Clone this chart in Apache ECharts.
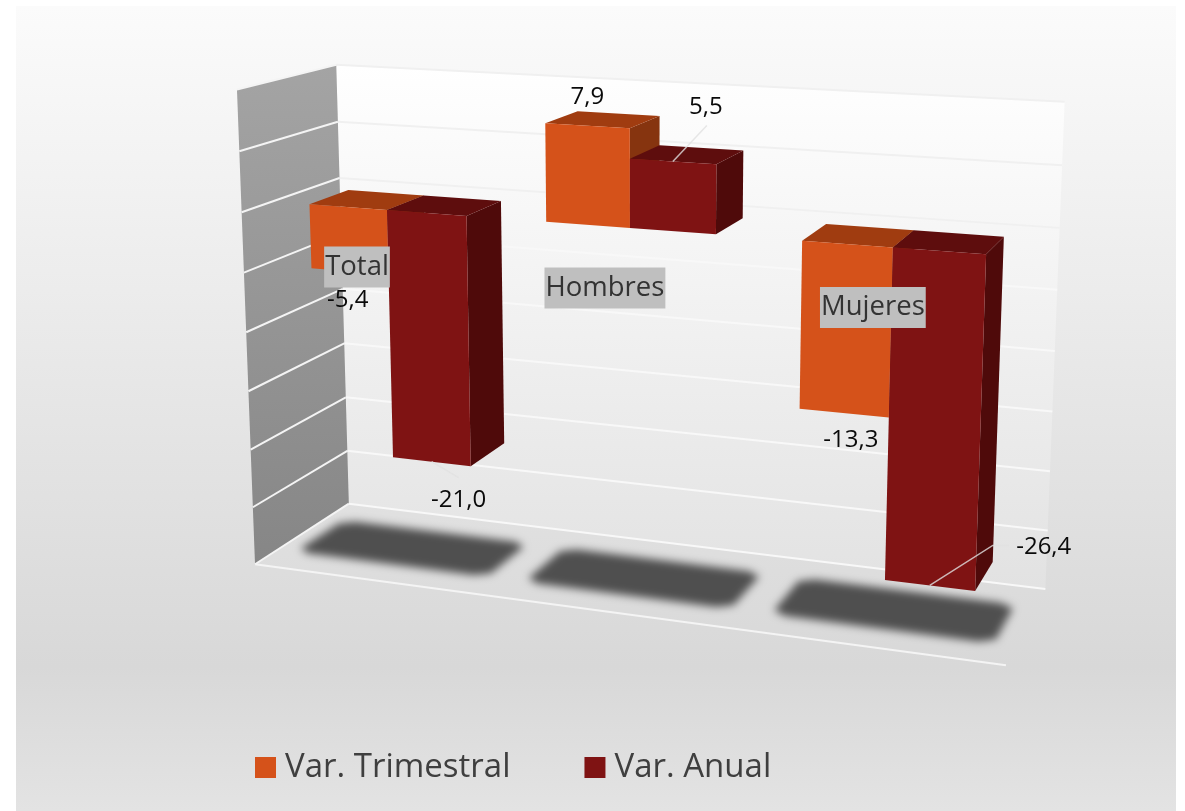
<!DOCTYPE html>
<html>
<head>
<meta charset="utf-8">
<style>html,body{margin:0;padding:0;background:#fff}#c{width:1185px;height:811px}</style>
<script src="https://cdn.jsdelivr.net/npm/echarts@6/dist/echarts.min.js"></script>
</head>
<body>
<div id="c"></div>
<script>
const categories = ['Total', 'Hombres', 'Mujeres'];
const varTrimestral = [-5.4, 7.9, -13.3];
const varAnual = [-21.0, 5.5, -26.4];
const valueTicks = [-30, -25, -20, -15, -10, -5, 0, 5, 10];
const seriesNames = ['Var. Trimestral', 'Var. Anual'];

const FONT = '"Open Sans", sans-serif';
const VMIN = -30, VMAX = 10;
const BAR = 0.336;             // width of one bar, in category units
const DF = -0.725, DB = 1.725; // depth of the front and back of the box (bars span depth 0..1)
const COLORS = {
  trim: { front: '#d5521a', top: '#a03c10', side: '#86340f' },
  anual: { front: '#7f1313', top: '#5e0d0d', side: '#4f0a0a' }
};

// perspective camera: category position t, value v, depth d -> pixel
function project(t, v, d) {
  const w = 1 - 0.038 * t - 0.001143 * v + 0.0354 * d;
  return [(387 + 219 * t - 0.735 * v + 51.7 * d) / w,
          (210 + 9.3 * t - 12.3 * v - 7.6 * d) / w];
}
// read a datum through the chart's own axes, then back to model space
function model(api, params, cat, val) {
  const p = api.coord([cat, val]);
  const cs = params.coordSys;
  return {
    t: (p[0] - cs.x) / cs.width * categories.length - 0.5,
    v: VMAX - (p[1] - cs.y) / cs.height * (VMAX - VMIN)
  };
}
function poly(points, fill, extra) {
  return Object.assign({ type: 'polygon', shape: { points }, style: { fill }, silent: true }, extra || {});
}
function barItem(off, pal) {
  return function (params, api) {
    const m = model(api, params, api.value(0), api.value(1));
    const base = model(api, params, api.value(0), 0);
    const t0 = m.t + off, t1 = t0 + BAR;
    const hi = Math.max(m.v, base.v), lo = Math.min(m.v, base.v);
    return {
      type: 'group',
      children: [
        poly([project(t1, hi, 0), project(t1, hi, 1), project(t1, lo, 1), project(t1, lo, 0)], pal.side),
        poly([project(t0, hi, 0), project(t0, hi, 1), project(t1, hi, 1), project(t1, hi, 0)], pal.top),
        poly([project(t0, hi, 0), project(t1, hi, 0), project(t1, lo, 0), project(t0, lo, 0)], pal.front)
      ]
    };
  };
}
const SHADOW_SHIFT = 3000;
function shadowItem(params, api) {
  const m = model(api, params, api.value(0), VMIN);
  const tA = m.t - 0.42, tB = m.t + 0.42, dA = -0.16, dB = 1.10, k = 0.055, e = 0.13;
  // an outline with its corners cut, which the blur turns into rounded corners
  const pts = [
    project(tA + k, m.v, dA), project(tB - k, m.v, dA), project(tB, m.v, dA + e),
    project(tB, m.v, dB - e), project(tB - k, m.v, dB), project(tA + k, m.v, dB),
    project(tA, m.v, dB - e), project(tA, m.v, dA + e)
  ].map(p => [p[0] - SHADOW_SHIFT, p[1]]);
  return poly(pts, '#505050', {
    style: { fill: '#505050', shadowColor: '#4f4f4f', shadowBlur: 9, shadowOffsetX: SHADOW_SHIFT }
  });
}
function wallsItem(params, api) {
  const L = model(api, params, 0, VMIN), R = model(api, params, categories.length - 1, VMAX);
  const tL = L.t - 0.5, tR = R.t + 0.5, lo = L.v, hi = R.v;
  return {
    type: 'group',
    children: [
      poly([project(tL, hi, DB), project(tR, hi, DB), project(tR, lo, DB), project(tL, lo, DB)],
        new echarts.graphic.LinearGradient(0, 0, 0, 1, [{ offset: 0, color: '#ffffff' }, { offset: 1, color: '#e2e2e2' }])),
      poly([project(tL, hi, DF), project(tL, hi, DB), project(tL, lo, DB), project(tL, lo, DF)],
        new echarts.graphic.LinearGradient(0, 0, 0, 1, [{ offset: 0, color: '#a4a4a4' }, { offset: 1, color: '#868686' }]))
    ]
  };
}
function gridItem(params, api) {
  const v = model(api, params, 0, api.value(0)).v;
  const tL = -0.5, tR = 2.5;
  const wallColor = v >= 0 ? '#f0f0f0' : '#f8f8f8';
  const lines = [
    { type: 'polyline', shape: { points: [project(tL, v, DF), project(tL, v, DB)] },
      style: { stroke: '#f4f4f4', lineWidth: 2, fill: null }, silent: true },
    { type: 'polyline', shape: { points: [project(tL, v, DB), project(tR, v, DB)] },
      style: { stroke: wallColor, lineWidth: 2, fill: null }, silent: true }
  ];
  if (v === VMIN) {
    lines.push({ type: 'polyline', shape: { points: [project(tL, v, DF), project(tR, v, DF)] },
      style: { stroke: '#f4f4f4', lineWidth: 2, fill: null }, silent: true });
  }
  return { type: 'group', children: lines };
}

// label offsets from the point of the bar they belong to
const trimLabelOffset = [[-2, 29], [0, -29], [7, 27]];
const anualLabelOffset = [[27, 38], [33, -54], [114, -38]];
const anualLeader = [[[27, 16]], [[34, -36]], [[63, -40], [79, -40]]];
const catLabelOffset = [[-30, 57], [-25, 60], [-20, 60]];

function fmt(v) { return v.toFixed(1).replace('.', ','); }
function valueText(x, y, v) {
  return { type: 'text', silent: true, style: { text: fmt(v), x, y, fill: '#0a0a0a', align: 'center',
    verticalAlign: 'middle', fontSize: 24, fontFamily: FONT } };
}
function labelItem(off, offsets, leaders) {
  return function (params, api) {
    const i = api.value(0), val = api.value(1);
    const m = model(api, params, i, val);
    const a = project(m.t + off + BAR / 2, m.v, 0);
    const o = offsets[i];
    const children = [];
    if (leaders) {
      const pts = [a].concat(leaders[i].map(q => [a[0] + q[0], a[1] + q[1]]));
      children.push({ type: 'polyline', silent: true, shape: { points: pts },
        style: { stroke: 'rgba(225,225,225,0.8)', lineWidth: 1.5, fill: null } });
    }
    children.push(valueText(a[0] + o[0], a[1] + o[1], val));
    return { type: 'group', children };
  };
}
function catLabelItem(params, api) {
  const i = api.value(0);
  const m = model(api, params, i, 0);
  const a = project(m.t, m.v, 0), o = catLabelOffset[i];
  return { type: 'text', silent: true, style: {
    text: categories[i], x: a[0] + o[0], y: a[1] + o[1], align: 'center', verticalAlign: 'middle',
    fontSize: 27.5, fontFamily: FONT, fill: '#333333', backgroundColor: '#bfbfbf', padding: [1, 1, 1, 1], lineHeight: 39 } };
}

const catIdx = categories.map((_, i) => i);
const grid = { left: 240, right: 140, top: 60, bottom: 200, show: false };
const common = { type: 'custom', coordinateSystem: 'cartesian2d', silent: true, animation: false, clip: false };

const option = {
  animation: false,
  backgroundColor: '#ffffff',
  grid,
  xAxis: { type: 'category', data: categories, show: false },
  yAxis: { type: 'value', min: VMIN, max: VMAX, interval: 5, show: false },
  legend: {
    data: seriesNames, left: 250, top: 746, icon: 'rect', itemWidth: 21, itemHeight: 21, itemGap: 74,
    selectedMode: false,
    textStyle: { fontSize: 33, fontFamily: FONT, color: '#3f3f3f', padding: [0, 0, 0, 4] }
  },
  graphic: [{
    type: 'rect', z: -10, silent: true, shape: { x: 16, y: 6, width: 1160, height: 805 },
    style: { fill: new echarts.graphic.LinearGradient(0, 0, 0, 1, [
      { offset: 0, color: '#fbfbfb' }, { offset: 0.82, color: '#d8d8d8' }, { offset: 1, color: '#e3e3e3' }]) }
  }],
  series: [
    Object.assign({}, common, { name: 'walls', z: 1, data: [[0]], encode: { x: 0 }, renderItem: wallsItem }),
    Object.assign({}, common, { name: 'grid', z: 2, data: valueTicks.map(v => [v]), encode: { y: 0 }, renderItem: gridItem }),
    Object.assign({}, common, { name: 'shadow', z: 3, data: catIdx.map(i => [i]), encode: { x: 0 }, renderItem: shadowItem }),
    Object.assign({}, common, { name: seriesNames[0], z: 4, itemStyle: { color: COLORS.trim.front },
      data: varTrimestral.map((v, i) => [i, v]), encode: { x: 0, y: 1 }, renderItem: barItem(-BAR, COLORS.trim) }),
    Object.assign({}, common, { name: seriesNames[1], z: 5, itemStyle: { color: COLORS.anual.front },
      data: varAnual.map((v, i) => [i, v]), encode: { x: 0, y: 1 }, renderItem: barItem(0, COLORS.anual) }),
    Object.assign({}, common, { name: 'catLabels', z: 6, data: catIdx.map(i => [i]), encode: { x: 0 }, renderItem: catLabelItem }),
    Object.assign({}, common, { name: 'trimLabels', z: 7,
      data: varTrimestral.map((v, i) => [i, v]), encode: { x: 0, y: 1 }, renderItem: labelItem(-BAR, trimLabelOffset) }),
    Object.assign({}, common, { name: 'anualLabels', z: 7,
      data: varAnual.map((v, i) => [i, v]), encode: { x: 0, y: 1 }, renderItem: labelItem(0, anualLabelOffset, anualLeader) })
  ]
};
echarts.init(document.getElementById('c'), null, { renderer: 'canvas' }).setOption(option);
</script>
</body>
</html>
